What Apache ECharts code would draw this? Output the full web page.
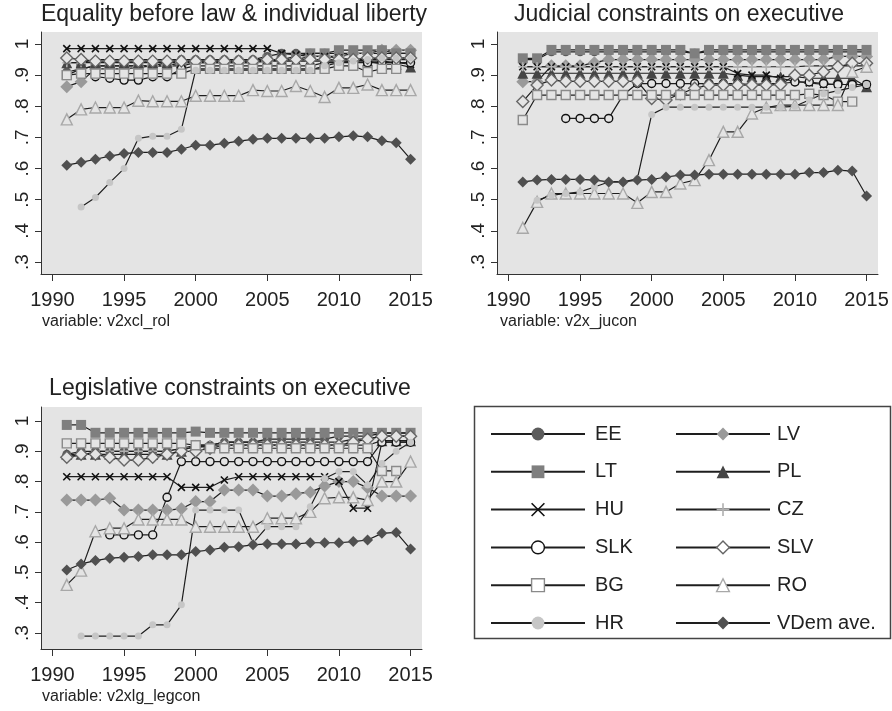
<!DOCTYPE html>
<html><head><meta charset="utf-8">
<script src="https://cdn.jsdelivr.net/npm/echarts@6/dist/echarts.min.js"></script>
<style>html,body{margin:0;padding:0;background:#fff}#c{width:892px;height:711px}</style>
</head><body><div id="c"></div>
<script>
const years = [1991,1992,1993,1994,1995,1996,1997,1998,1999,2000,2001,2002,2003,2004,2005,2006,2007,2008,2009,2010,2011,2012,2013,2014,2015];
const xTicks = [1990,1995,2000,2005,2010,2015];
const xTickLabels = ['1990','1995','2000','2005','2010','2015'];
const yTicks = [0.3,0.4,0.5,0.6,0.7,0.8,0.9,1];
const yTickLabels = ['.3','.4','.5','.6','.7','.8','.9','1'];
const panelTitles = ['Equality before law & individual liberty','Judicial constraints on executive','Legislative constraints on executive'];
const panelNotes = ['variable: v2xcl_rol','variable: v2x_jucon','variable: v2xlg_legcon'];
const countries = ['EE','LV','LT','PL','HU','CZ','SLK','SLV','BG','RO','HR','VDem ave.'];
const legendCol1 = ['EE','LT','HU','SLK','BG','HR'];
const legendCol2 = ['LV','PL','CZ','SLV','RO','VDem ave.'];

// Panel 1: v2xcl_rol
const rol_EE  = [0.91,0.92,0.93,0.93,0.93,0.93,0.93,0.94,0.95,0.95,0.95,0.95,0.95,0.95,0.96,0.97,0.97,0.97,0.97,0.97,0.97,0.97,0.97,0.97,0.97];
const rol_LT  = [0.90,0.92,0.93,0.93,0.93,0.93,0.93,0.93,0.93,0.94,0.94,0.94,0.94,0.94,0.95,0.95,0.96,0.97,0.97,0.98,0.98,0.98,0.98,0.97,0.97];
const rol_HU  = [0.985,0.985,0.985,0.985,0.985,0.985,0.985,0.985,0.985,0.985,0.985,0.985,0.985,0.985,0.985,0.97,0.965,0.96,0.96,0.955,0.95,0.945,0.945,0.94,0.935];
const rol_SLK = [null,null,0.895,0.89,0.884,0.884,0.895,0.895,0.92,0.93,0.93,0.93,0.93,0.93,0.93,0.93,0.93,0.93,0.94,0.94,0.94,0.94,0.94,0.94,0.94];
const rol_BG  = [0.90,0.905,0.905,0.905,0.905,0.905,0.905,0.905,0.905,0.92,0.92,0.92,0.92,0.92,0.92,0.92,0.92,0.92,0.92,0.93,0.93,0.91,0.92,0.92,null];
const rol_HR  = [null,0.477,0.507,0.555,0.60,0.697,0.704,0.704,0.726,0.916,0.916,0.916,0.916,0.916,0.916,0.916,0.916,0.916,0.93,0.94,0.945,0.95,0.955,0.955,0.955];
const rol_LV  = [0.863,0.879,0.92,0.92,0.92,0.925,0.93,0.93,0.94,0.94,0.94,0.94,0.94,0.94,0.945,0.95,0.95,0.96,0.96,0.96,0.97,0.97,0.98,0.98,0.98];
const rol_PL  = [0.94,0.94,0.94,0.94,0.94,0.94,0.94,0.94,0.94,0.945,0.945,0.945,0.945,0.945,0.945,0.945,0.945,0.945,0.945,0.945,0.945,0.945,0.935,0.935,0.926];
const rol_CZ  = [0.94,0.94,0.95,0.95,0.95,0.95,0.95,0.95,0.95,0.95,0.95,0.95,0.95,0.95,0.95,0.95,0.95,0.95,0.95,0.95,0.95,0.95,0.95,0.95,0.95];
const rol_SLV = [0.955,0.95,0.945,0.945,0.945,0.945,0.945,0.945,0.945,0.945,0.945,0.945,0.945,0.945,0.95,0.95,0.95,0.95,0.95,0.95,0.95,0.955,0.955,0.955,0.955];
const rol_RO  = [0.758,0.790,0.796,0.796,0.796,0.818,0.816,0.816,0.816,0.834,0.834,0.834,0.834,0.852,0.849,0.849,0.865,0.849,0.83,0.859,0.859,0.870,0.852,0.852,0.852];
const rol_VD  = [0.611,0.620,0.630,0.640,0.648,0.652,0.652,0.652,0.662,0.675,0.675,0.681,0.688,0.694,0.697,0.697,0.697,0.697,0.697,0.702,0.705,0.702,0.689,0.683,0.63];

// Panel 2: v2x_jucon
const juc_EE  = [0.95,0.95,0.975,0.975,0.975,0.975,0.975,0.975,0.975,0.975,0.975,0.975,0.97,0.975,0.975,0.975,0.975,0.975,0.975,0.975,0.975,0.975,0.975,0.975,0.975];
const juc_LT  = [0.954,0.954,0.981,0.981,0.981,0.981,0.981,0.981,0.981,0.981,0.981,0.981,0.97,0.981,0.981,0.981,0.981,0.981,0.981,0.981,0.981,0.981,0.981,0.981,0.981];
const juc_HU  = [0.927,0.927,0.927,0.927,0.927,0.927,0.927,0.927,0.927,0.927,0.927,0.927,0.927,0.927,0.927,0.905,0.90,0.90,0.89,0.88,0.875,0.87,0.87,0.87,0.87];
const juc_SLK = [null,null,null,0.761,0.761,0.761,0.761,0.836,0.873,0.873,0.873,0.873,0.873,0.873,0.873,0.873,0.87,0.873,0.873,0.878,0.878,0.873,0.87,0.87,0.87];
const juc_BG  = [0.756,0.836,0.836,0.836,0.836,0.836,0.836,0.836,0.836,0.836,0.836,0.836,0.836,0.836,0.836,0.836,0.836,0.836,0.836,0.836,0.84,0.836,0.815,0.815,null];
const juc_HR  = [null,0.498,0.514,0.52,0.525,0.541,0.557,0.557,0.568,0.774,0.797,0.797,0.797,0.797,0.797,0.797,0.797,0.797,0.797,0.80,0.82,0.84,0.85,0.86,0.87];
const juc_LV  = [0.879,0.879,0.93,0.93,0.93,0.94,0.95,0.95,0.95,0.95,0.95,0.95,0.95,0.95,0.95,0.95,0.95,0.95,0.95,0.95,0.95,0.95,0.96,0.96,0.96];
const juc_PL  = [0.906,0.906,0.906,0.906,0.906,0.906,0.906,0.906,0.906,0.906,0.906,0.906,0.906,0.906,0.906,0.90,0.895,0.895,0.895,0.895,0.89,0.89,0.89,0.89,0.863];
const juc_CZ  = [0.927,0.927,0.927,0.927,0.927,0.927,0.927,0.927,0.927,0.927,0.927,0.927,0.927,0.927,0.927,0.927,0.927,0.927,0.927,0.927,0.93,0.93,0.93,0.93,0.93];
const juc_SLV = [0.815,0.868,0.884,0.88,0.88,0.88,0.88,0.88,0.88,0.825,0.82,0.84,0.858,0.868,0.868,0.868,0.868,0.868,0.87,0.90,0.90,0.911,0.927,0.938,0.938];
const juc_RO  = [0.41,0.493,0.52,0.52,0.52,0.52,0.52,0.52,0.49,0.525,0.525,0.552,0.563,0.627,0.718,0.718,0.777,0.796,0.804,0.804,0.804,0.804,0.804,0.911,0.927];
const juc_VD  = [0.557,0.563,0.565,0.565,0.565,0.563,0.557,0.557,0.563,0.565,0.573,0.579,0.579,0.582,0.582,0.582,0.582,0.582,0.582,0.582,0.587,0.587,0.595,0.592,0.512];

// Panel 3: v2xlg_legcon
const leg_EE  = [0.89,0.90,0.90,0.90,0.90,0.90,0.90,0.90,0.91,0.92,0.92,0.93,0.93,0.93,0.94,0.94,0.94,0.94,0.94,0.95,0.95,0.95,0.96,0.96,0.96];
const leg_LT  = [0.987,0.987,0.961,0.961,0.961,0.961,0.961,0.961,0.961,0.965,0.961,0.961,0.961,0.961,0.961,0.961,0.961,0.961,0.961,0.961,0.961,0.961,0.961,0.961,0.961];
const leg_HU  = [0.816,0.816,0.816,0.816,0.816,0.816,0.816,0.816,0.781,0.781,0.781,0.805,0.816,0.816,0.816,0.816,0.816,0.816,0.816,0.80,0.712,0.712,0.93,0.93,0.93];
const leg_SLK = [null,null,null,0.624,0.624,0.624,0.624,0.748,0.866,0.866,0.866,0.866,0.866,0.866,0.866,0.866,0.866,0.866,0.866,0.866,0.866,0.866,0.93,0.93,0.93];
const leg_BG  = [0.926,0.926,0.926,0.926,0.926,0.926,0.926,0.926,0.926,0.92,0.91,0.91,0.91,0.91,0.91,0.91,0.91,0.91,0.91,0.91,0.91,0.91,0.835,0.835,null];
const leg_HR  = [null,0.29,0.29,0.29,0.29,0.29,0.327,0.327,0.393,0.706,0.706,0.706,0.706,0.597,0.651,0.651,0.651,0.717,0.81,0.833,0.833,0.789,0.86,0.90,0.93];
const leg_LV  = [0.739,0.739,0.739,0.745,0.706,0.706,0.706,0.706,0.71,0.734,0.734,0.772,0.772,0.772,0.752,0.752,0.76,0.765,0.785,0.80,0.80,0.78,0.752,0.752,0.752];
const leg_PL  = [0.89,0.89,0.89,0.89,0.89,0.89,0.89,0.89,0.90,0.92,0.92,0.92,0.92,0.92,0.92,0.92,0.92,0.92,0.92,0.92,0.92,0.92,0.935,0.935,0.935];
const leg_CZ  = [0.885,0.885,0.90,0.90,0.90,0.90,0.90,0.90,0.91,0.91,0.92,0.93,0.93,0.93,0.93,0.93,0.93,0.93,0.93,0.93,0.94,0.94,0.95,0.95,0.95];
const leg_SLV = [0.88,0.89,0.89,0.88,0.871,0.871,0.88,0.89,0.90,0.90,0.91,0.92,0.92,0.92,0.92,0.92,0.92,0.92,0.92,0.92,0.93,0.94,0.95,0.95,0.95];
const leg_RO  = [0.459,0.506,0.636,0.646,0.646,0.675,0.675,0.675,0.675,0.651,0.651,0.651,0.651,0.651,0.679,0.679,0.679,0.70,0.745,0.748,0.748,0.739,0.80,0.80,0.866];
const leg_VD  = [0.508,0.528,0.539,0.547,0.55,0.553,0.558,0.558,0.558,0.569,0.574,0.583,0.585,0.591,0.594,0.594,0.594,0.598,0.598,0.598,0.602,0.607,0.629,0.632,0.577];

const panels = [
  {EE:rol_EE, LV:rol_LV, LT:rol_LT, PL:rol_PL, HU:rol_HU, CZ:rol_CZ, SLK:rol_SLK, SLV:rol_SLV, BG:rol_BG, RO:rol_RO, HR:rol_HR, 'VDem ave.':rol_VD},
  {EE:juc_EE, LV:juc_LV, LT:juc_LT, PL:juc_PL, HU:juc_HU, CZ:juc_CZ, SLK:juc_SLK, SLV:juc_SLV, BG:juc_BG, RO:juc_RO, HR:juc_HR, 'VDem ave.':juc_VD},
  {EE:leg_EE, LV:leg_LV, LT:leg_LT, PL:leg_PL, HU:leg_HU, CZ:leg_CZ, SLK:leg_SLK, SLV:leg_SLV, BG:leg_BG, RO:leg_RO, HR:leg_HR, 'VDem ave.':leg_VD}
];

const PLOTBG = '#e4e4e4';
const X_PATH = 'path://M0,0L10,10M10,0L0,10';
const PLUS_PATH = 'path://M5,0L5,10M0,5L10,5';
const styles = {
  'EE':  {symbol:'circle', size:9, color:'#5c5c5c'},
  'LT':  {symbol:'rect', size:10, color:'#7f7f7f'},
  'HU':  {symbol:X_PATH, size:7, color:'#111', stroke:true},
  'SLK': {symbol:'circle', size:8, color:'#111', hollow:true},
  'BG':  {symbol:'rect', size:9, color:'#8a8a8a', hollow:true},
  'HR':  {symbol:'circle', size:7, color:'#c6c6c6'},
  'LV':  {symbol:'diamond', size:13, color:'#9a9a9a'},
  'PL':  {symbol:'triangle', size:11, color:'#454545'},
  'CZ':  {symbol:PLUS_PATH, size:9, color:'#b0b0b0', stroke:true},
  'SLV': {symbol:'diamond', size:12, color:'#666', hollow:true},
  'RO':  {symbol:'triangle', size:11, color:'#a8a8a8', hollow:true},
  'VDem ave.': {symbol:'diamond', size:11, color:'#505050'}
};

function itemStyleFor(st, bg){
  if (st.stroke) return {color:'none', borderColor:st.color, borderWidth:1.6};
  if (st.hollow) return {color:bg, borderColor:st.color, borderWidth:1.4};
  return {color:st.color, borderWidth:0};
}

const series = [];
panels.forEach((p, pi) => {
  countries.forEach(name => {
    const st = styles[name];
    series.push({
      name, type:'line', xAxisIndex:pi, yAxisIndex:pi,
      data: years.map((y,i) => [y, p[name][i]]),
      symbol: st.symbol, symbolSize: st.size, showSymbol:true,
      connectNulls:false, silent:true, animation:false,
      lineStyle:{color:'#1e1e1e', width:1.2},
      itemStyle: itemStyleFor(st, PLOTBG),
      emphasis:{disabled:true}
    });
  });
});

const grids = [
  {left:41, top:32, width:381, height:242},
  {left:497, top:32, width:381, height:242},
  {left:41, top:407, width:381, height:242}
];
const yRanges = [[0.2615,1.0385],[0.2615,1.0385],[0.2472,1.0462]];
const FONT = '"Liberation Sans", Arial, Helvetica, sans-serif';

function legendData(list){
  return list.map(n => {
    const st = styles[n];
    return {name:n, itemStyle: itemStyleFor(st, '#fff')};
  });
}

const option = {
  backgroundColor:'#fff',
  animation:false,
  textStyle:{fontFamily:FONT},
  grid: grids.map(g => Object.assign({show:true, backgroundColor:PLOTBG, borderWidth:0, containLabel:false}, g)),
  xAxis: grids.map((g,i) => ({
    type:'value', gridIndex:i, min:1989.2, max:2015.8,
    axisLine:{show:true, onZero:false, lineStyle:{color:'#333', width:1}},
    axisTick:{show:true, customValues:xTicks, length:7, lineStyle:{color:'#333'}},
    axisLabel:{customValues:xTicks, fontSize:20, color:'#222', margin:16, fontFamily:FONT,
      formatter: v => { const k = xTicks.indexOf(v); return k>=0 ? xTickLabels[k] : ''; }},
    splitLine:{show:false}
  })),
  yAxis: grids.map((g,i) => ({
    type:'value', gridIndex:i, min:yRanges[i][0], max:yRanges[i][1],
    axisLine:{show:true, onZero:false, lineStyle:{color:'#333', width:1}},
    axisTick:{show:true, customValues:yTicks, length:6, lineStyle:{color:'#333'}},
    axisLabel:{customValues:yTicks, fontSize:19, color:'#222', margin:9, rotate:90, fontFamily:FONT,
      formatter: v => { const k = yTicks.findIndex(t => Math.abs(t-v) < 1e-9); return k>=0 ? yTickLabels[k] : ''; }},
    splitLine:{show:false}
  })),
  legend: [
    {orient:'vertical', left:485, top:419, itemWidth:94, itemHeight:16, itemGap:17.8,
     selectedMode:false, data:legendData(legendCol1),
     textStyle:{fontSize:20, color:'#222', fontFamily:FONT, padding:[0,0,0,5]}},
    {orient:'vertical', left:670, top:419, itemWidth:94, itemHeight:16, itemGap:17.8,
     selectedMode:false, data:legendData(legendCol2),
     textStyle:{fontSize:20, color:'#222', fontFamily:FONT, padding:[0,0,0,2]}}
  ],
  graphic: [
    {type:'rect', shape:{x:474.5, y:406.5, width:416, height:232}, style:{fill:'none', stroke:'#444', lineWidth:1.5}, silent:true},
    {type:'text', x:234, y:3, style:{text:panelTitles[0], font:'23px '+FONT, fill:'#222', textAlign:'center', textVerticalAlign:'top'}},
    {type:'text', x:679, y:3, style:{text:panelTitles[1], font:'23px '+FONT, fill:'#222', textAlign:'center', textVerticalAlign:'top'}},
    {type:'text', x:230, y:377, style:{text:panelTitles[2], font:'23px '+FONT, fill:'#222', textAlign:'center', textVerticalAlign:'top'}},
    {type:'text', x:42, y:314, style:{text:panelNotes[0], font:'16px '+FONT, fill:'#222', textAlign:'left', textVerticalAlign:'top'}},
    {type:'text', x:500, y:314, style:{text:panelNotes[1], font:'16px '+FONT, fill:'#222', textAlign:'left', textVerticalAlign:'top'}},
    {type:'text', x:42, y:689, style:{text:panelNotes[2], font:'16px '+FONT, fill:'#222', textAlign:'left', textVerticalAlign:'top'}}
  ],
  series
};
const chart = echarts.init(document.getElementById('c'), null, {renderer:'canvas'});
chart.setOption(option);
</script>
</body></html>
